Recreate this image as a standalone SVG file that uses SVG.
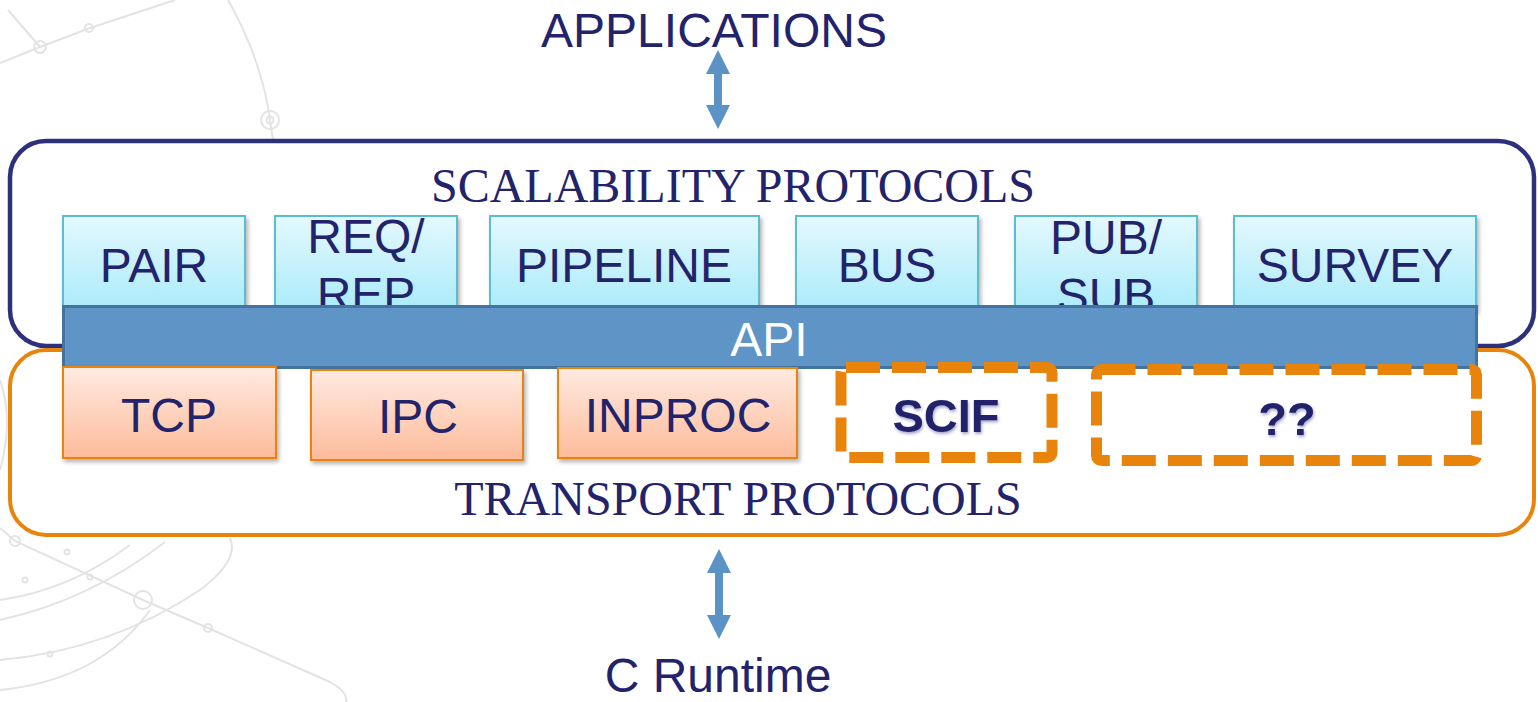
<svg xmlns="http://www.w3.org/2000/svg" width="1538" height="702" viewBox="0 0 1538 702">
  <defs>
    <linearGradient id="gScal" x1="0" y1="0" x2="0" y2="1">
      <stop offset="0" stop-color="#e4f8fe"/>
      <stop offset="1" stop-color="#aaebfa"/>
    </linearGradient>
    <linearGradient id="gTrans" x1="0" y1="0" x2="0" y2="1">
      <stop offset="0" stop-color="#ffeae1"/>
      <stop offset="1" stop-color="#fdbb9a"/>
    </linearGradient>
    <filter id="shadow" x="-10%" y="-10%" width="120%" height="130%">
      <feDropShadow dx="2" dy="3" stdDeviation="2" flood-color="#000" flood-opacity="0.3"/>
    </filter>
    <filter id="textGlow" x="-10%" y="-20%" width="120%" height="150%">
      <feDropShadow dx="1" dy="2" stdDeviation="1.5" flood-color="#3a3a8a" flood-opacity="0.45"/>
    </filter>
    <!-- arrowhead: base on the line end, tip 24px beyond -->
    <marker id="arrowHead" viewBox="0 0 24 24" refX="0" refY="12" markerWidth="24" markerHeight="24" markerUnits="userSpaceOnUse" orient="auto-start-reverse">
      <path d="M0,0 L24,12 L0,24 Z" fill="#5b93c7"/>
    </marker>
  </defs>
  <style>
    .sans { font-family: "Liberation Sans", Arial, sans-serif; }
    .serif { font-family: "Liberation Serif", "Times New Roman", serif; }
    .navy { fill: #23236b; }
    .label { font-size: 48px; text-anchor: middle; }
    .title { font-size: 48px; text-anchor: middle; }
    .scal { fill: url(#gScal); stroke: #5bbdd2; stroke-width: 2; filter: url(#shadow); }
    .trans { fill: url(#gTrans); stroke: #e8830b; stroke-width: 2; filter: url(#shadow); }
    .future { fill: none; stroke: #e8830b; stroke-width: 11; stroke-dasharray: 34 12; }
    .bold { font-weight: bold; font-size: 47px; filter: url(#textGlow); }
    .deco { fill: none; stroke: #e3e3e3; stroke-width: 2; }
  </style>

  <rect width="1538" height="702" fill="#ffffff"/>

  <!-- faint circuit-style background ornament -->
  <g id="background">
    <path class="deco" d="M0,63 L40,47 L90,28 L175,0"/>
    <path class="deco" d="M8,10 L40,47"/>
    <path class="deco" d="M228,0 Q262,60 270,120 L273,140"/>
    <circle class="deco" cx="40" cy="47" r="6"/>
    <circle class="deco" cx="89" cy="28" r="4"/>
    <circle class="deco" cx="270" cy="120" r="9"/>
    <circle class="deco" cx="270" cy="120" r="3.5"/>
    <path class="deco" d="M0,380 Q14,420 0,470"/>
    <path class="deco" d="M0,528 L15,541 L143,600 L208,628 L330,682 Q348,692 346,702"/>
    <path class="deco" d="M0,600 Q70,590 130,545"/>
    <path class="deco" d="M0,620 Q90,600 165,542"/>
    <path class="deco" d="M0,660 Q110,650 200,590 Q240,560 230,538"/>
    <path class="deco" d="M0,690 Q100,680 150,610"/>
    <circle class="deco" cx="15" cy="541" r="5"/>
    <circle class="deco" cx="143" cy="600" r="9"/>
    <circle class="deco" cx="208" cy="628" r="4"/>
    <circle class="deco" cx="25" cy="580" r="2.5"/>
    <circle class="deco" cx="67" cy="552" r="2.5"/>
    <circle class="deco" cx="90" cy="577" r="2.5"/>
    <circle class="deco" cx="50" cy="654" r="2.5"/>
  </g>

  <!-- layer frames -->
  <g id="scalability-layer">
    <rect x="10" y="141" width="1524" height="205" rx="36" fill="#ffffff" fill-opacity="0.6" stroke="#2d307b" stroke-width="4.5"/>
    <text class="serif navy title" x="733" y="202">SCALABILITY PROTOCOLS</text>
  </g>
  <g id="transport-layer">
    <rect x="10" y="350" width="1524" height="185" rx="36" fill="#ffffff" fill-opacity="0.6" stroke="#e8830b" stroke-width="4"/>
    <text class="serif navy title" x="738" y="515">TRANSPORT PROTOCOLS</text>
  </g>

  <!-- scalability protocols -->
  <g id="pair"><rect class="scal" x="63" y="216" width="182" height="95"/><text class="sans navy label" x="154" y="282">PAIR</text></g>
  <g id="reqrep"><rect class="scal" x="275" y="216" width="182" height="95"/><text class="sans navy label" x="366" y="253">REQ/</text><text class="sans navy label" x="366" y="311">REP</text></g>
  <g id="pipeline"><rect class="scal" x="490" y="216" width="269" height="95"/><text class="sans navy label" x="624" y="282">PIPELINE</text></g>
  <g id="bus"><rect class="scal" x="796" y="216" width="182" height="95"/><text class="sans navy label" x="887" y="282">BUS</text></g>
  <g id="pubsub"><rect class="scal" x="1015" y="216" width="182" height="95"/><text class="sans navy label" x="1106" y="254">PUB/</text><text class="sans navy label" x="1106" y="312">SUB</text></g>
  <g id="survey"><rect class="scal" x="1234" y="216" width="242" height="95"/><text class="sans navy label" x="1355" y="282">SURVEY</text></g>

  <!-- API bar -->
  <g id="api">
    <rect x="63.5" y="306.5" width="1413" height="61" fill="#5f94c7" stroke="#44739f" stroke-width="3"/>
    <text class="sans label" x="769" y="356" fill="#ffffff">API</text>
  </g>

  <!-- transport protocols -->
  <g id="tcp"><rect class="trans" x="63" y="367" width="213" height="91"/><text class="sans navy label" x="169" y="432">TCP</text></g>
  <g id="ipc"><rect class="trans" x="311" y="370" width="212" height="90"/><text class="sans navy label" x="418" y="433">IPC</text></g>
  <g id="inproc"><rect class="trans" x="558" y="368" width="239" height="90"/><text class="sans navy label" x="678" y="432">INPROC</text></g>
  <g id="scif"><rect class="future" x="841" y="367.5" width="211" height="90" rx="5"/><text class="sans navy label bold" x="946" y="432">SCIF</text></g>
  <g id="unknown"><rect class="future" x="1096.5" y="369.5" width="380" height="91" rx="5"/><text class="sans navy label bold" x="1287" y="435">??</text></g>

  <!-- endpoints -->
  <g id="applications"><text class="sans navy label" x="714" y="47" font-size="49">APPLICATIONS</text></g>
  <g id="c-runtime"><text class="sans navy label" x="718" y="692" font-size="49">C Runtime</text></g>

  <!-- connectors -->
  <g id="connectors" stroke="#5b93c7" stroke-width="8" fill="none">
    <line x1="718" y1="74" x2="718" y2="105" marker-start="url(#arrowHead)" marker-end="url(#arrowHead)"/>
    <line x1="719" y1="573" x2="719" y2="615" marker-start="url(#arrowHead)" marker-end="url(#arrowHead)"/>
  </g>
</svg>
